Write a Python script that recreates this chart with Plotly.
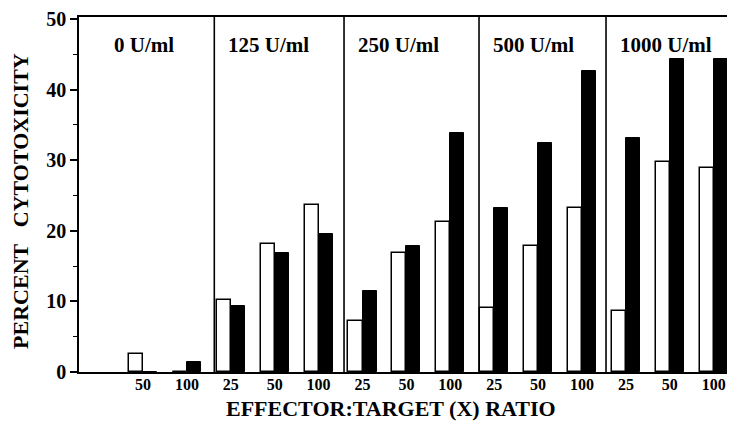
import plotly.graph_objects as go

# ---- data ----
doses = ["0 U/ml", "125 U/ml", "250 U/ml", "500 U/ml", "1000 U/ml"]
ratio_labels = ["", "50", "100",
                "25", "50", "100",
                "25", "50", "100",
                "25", "50", "100",
                "25", "50", "100"]
open_bars = [None, 2.5, 0,
             10.2, 18.1, 23.7,
             7.2, 16.9, 21.3,
             9.1, 17.9, 23.2,
             8.7, 29.7, 28.9]
solid_bars = [None, 0, 1.4,
              9.3, 16.8, 19.6,
              11.5, 17.9, 33.9,
              23.3, 32.4, 42.7,
              33.1, 44.3, 44.3]
y_ticks = [0, 10, 20, 30, 40, 50]

groups = list(range(len(ratio_labels)))

FONT = "Liberation Serif"
BW = 0.32

fig = go.Figure()
fig.add_trace(go.Bar(x=groups, y=open_bars, width=BW, offset=-BW,
                     marker=dict(color="white", line=dict(color="black", width=1.5)),
                     showlegend=False))
fig.add_trace(go.Bar(x=groups, y=solid_bars, width=BW, offset=0,
                     marker=dict(color="black", line=dict(color="black", width=1)),
                     showlegend=False))

# panel separators
sep_x = [2.624, 5.579, 8.654, 11.547]
for sx in sep_x:
    fig.add_shape(type="line", xref="x", yref="paper", x0=sx, x1=sx, y0=0, y1=1,
                  line=dict(color="black", width=1.6))

# panel labels
fig.add_annotation(x=-0.458, xref="x", y=0.922, yref="paper", text="<b>" + doses[0] + "</b>",
                   showarrow=False, xanchor="left", yanchor="middle", xshift=33,
                   font=dict(family=FONT, size=21, color="black"))
for sx, d in zip(sep_x, doses[1:]):
    fig.add_annotation(x=sx, xref="x", y=0.922, yref="paper", text="<b>" + d + "</b>",
                       showarrow=False, xanchor="left", yanchor="middle", xshift=12,
                       font=dict(family=FONT, size=21, color="black"))

# axis titles
fig.add_annotation(x=0, xref="paper", y=0.482, yref="paper", xshift=-58,
                   xanchor="center", yanchor="middle",
                   text="<b>PERCENT\u00a0\u00a0 CYTOTOXICITY</b>", textangle=-90, showarrow=False,
                   font=dict(family=FONT, size=22, color="black"))
fig.add_annotation(x=(391 - 79) / 656, xref="paper", y=0, yref="paper", yshift=-36,
                   xanchor="center", yanchor="middle",
                   text="<b>EFFECTOR:TARGET (X) RATIO</b>", showarrow=False,
                   font=dict(family=FONT, size=22, color="black"))

# the page adds an 8px body margin, so the figure is 8px smaller on each side
fig.update_layout(
    width=727, height=416,
    margin=dict(l=71, r=0, t=5, b=52),
    plot_bgcolor="white", paper_bgcolor="white",
    bargap=0, barmode="overlay",
)
fig.update_xaxes(range=[-0.458, 14.485], tickvals=groups, ticktext=["<b>%s</b>" % t for t in ratio_labels],
                 ticks="", showline=True, linecolor="black", linewidth=1.5, mirror=True,
                 showgrid=False, zeroline=False, ticklabelstandoff=-3,
                 tickfont=dict(family=FONT, size=16, color="black"))
fig.update_yaxes(range=[0, 50.3], tickvals=y_ticks, ticktext=["<b>%d</b>" % v for v in y_ticks],
                 ticks="outside", ticklen=7, tickwidth=1.5, tickcolor="black",
                 minor=dict(dtick=5, ticks="outside", ticklen=4, tickcolor="black", tickwidth=1),
                 showline=True, linecolor="black", linewidth=1.5,
                 showgrid=False, zeroline=False, ticklabeloverflow="allow",
                 tickfont=dict(family=FONT, size=20, color="black"))

fig.write_html("out.html")
